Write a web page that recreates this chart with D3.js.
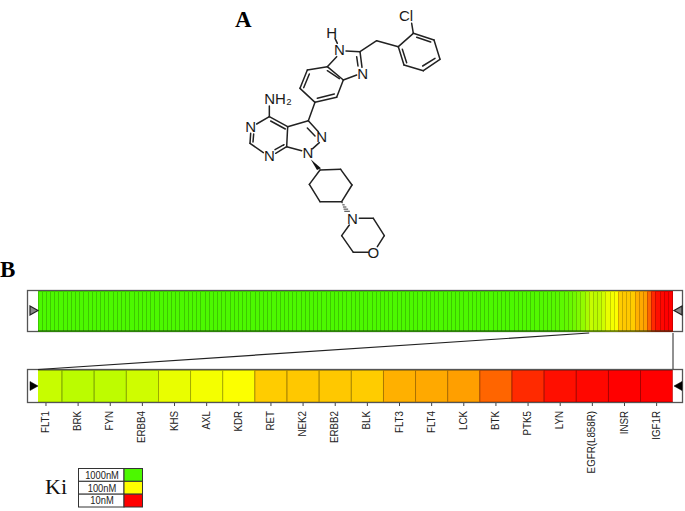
<!DOCTYPE html>
<html>
<head>
<meta charset="utf-8">
<script src="https://cdn.jsdelivr.net/npm/d3@7"></script>
<style>
  html, body { margin: 0; background: #fff; }
  svg { display: block; }
</style>
</head>
<body>
<div id="chart"></div>
<script>
// kinases shown in the zoomed strip
var kinases = ["FLT1", "BRK", "FYN", "ERBB4", "KHS", "AXL", "KDR", "RET", "NEK2", "ERBB2",
               "BLK", "FLT3", "FLT4", "LCK", "BTK", "PTK5", "LYN", "EGFR(L858R)", "INSR", "IGF1R"];
// Ki in nM
var kinaseKi = [206, 240, 231, 186, 133, 115, 104, 63, 61, 61,
                63, 49, 46, 42, 25, 14.6, 11.5, 10.7, 10, 10];
// the rest of the panel, weakest binders first (read from the top strip)
var otherKi = [
  1000, 1000, 1000, 1000, 1000, 1000, 1000, 1000, 1000, 1000, 1000, 1000, 1000, 1000, 1000, 1000,
  1000, 1000, 1000, 1000, 1000, 1000, 1000, 1000, 1000, 1000, 1000, 1000, 1000, 1000, 1000, 1000,
  1000, 1000, 1000, 1000, 1000, 1000, 1000, 1000, 1000, 1000, 1000, 1000, 1000, 1000, 1000, 1000,
  1000, 1000, 1000, 1000, 1000, 1000, 1000, 1000, 1000, 1000, 1000, 1000, 1000, 1000, 1000, 1000,
  1000, 1000, 1000, 1000, 1000, 1000, 1000, 1000, 1000, 1000, 1000, 1000, 1000, 1000, 1000, 1000,
  1000, 1000, 1000, 1000, 1000, 1000, 1000, 1000, 1000, 1000, 1000, 1000, 1000, 1000, 1000, 1000,
  1000, 1000, 1000, 1000, 1000, 1000, 1000, 1000, 1000, 1000, 1000, 1000, 1000, 1000, 1000, 1000,
  1000, 1000, 980, 980, 950, 950, 950, 920, 920, 900, 900, 880, 850, 800, 750, 700,
  620, 520, 400, 300
];
var legendLabels = ["1000nM", "100nM", "10nM"];
var legendKi = [1000, 100, 10];

var width = 685, height = 511;

var color = d3.scaleLog()
    .domain([10, 100, 1000])
    .range(["#ff0000", "#ffff00", "#4cf800"])
    .clamp(true);

var svg = d3.select("#chart").append("svg")
    .attr("width", width)
    .attr("height", height);

var sans = "'Liberation Sans', Arial, sans-serif";
var serif = "'Liberation Serif', 'Times New Roman', serif";

// panel letters
svg.append("text").attr("x", 235).attr("y", 27)
    .attr("font-family", serif).attr("font-weight", "bold").attr("font-size", 23).text("A");
svg.append("text").attr("x", 0).attr("y", 277)
    .attr("font-family", serif).attr("font-weight", "bold").attr("font-size", 23).text("B");

// ---- heat strips ----
var allKi = otherKi.concat(kinaseKi);
var topX = d3.scaleBand().domain(d3.range(allKi.length)).range([38, 672.7]);
var zoomX = d3.scaleBand().domain(kinases).range([29.9, 672.7]);

function frame(y, h) {
    svg.append("rect").attr("x", 27.5).attr("y", y).attr("width", 655).attr("height", h)
        .attr("fill", "#fff").attr("stroke", "#555").attr("stroke-width", 1.3);
}

frame(290.5, 41);
frame(369.5, 33);

svg.append("g").attr("shape-rendering", "crispEdges").selectAll("rect")
    .data(allKi)
    .enter().append("rect")
    .attr("x", function(d, i) { return topX(i); })
    .attr("y", 291.5)
    .attr("width", topX.bandwidth())
    .attr("height", 39.5)
    .attr("fill", function(d) { return color(d); })
    .attr("stroke", function(d) { return d3.color(color(d)).darker(0.6); })
    .attr("stroke-width", 1);

// dark line under the top strip
svg.append("line").attr("x1", 38).attr("x2", 672.7).attr("y1", 331).attr("y2", 331)
    .attr("stroke", "#1c3a10").attr("stroke-width", 1.2);

// first cell of the zoomed strip is partly hidden by the left margin
svg.append("clipPath").attr("id", "zoomclip").append("rect")
    .attr("x", 38).attr("y", 370).attr("width", 634.7).attr("height", 32);

svg.append("g").attr("clip-path", "url(#zoomclip)").selectAll("rect")
    .data(kinases)
    .enter().append("rect")
    .attr("x", function(d) { return zoomX(d); })
    .attr("y", 370.5)
    .attr("width", zoomX.bandwidth())
    .attr("height", 31.5)
    .attr("fill", function(d, i) { return color(kinaseKi[i]); })
    .attr("stroke", function(d, i) { return d3.color(color(kinaseKi[i])).darker(1.2); })
    .attr("stroke-width", 0.9);

// lines that tie the zoomed strip to the top one
var zoomStart = topX(otherKi.length);
var tie = svg.append("g").attr("stroke", "#222").attr("fill", "none");
tie.append("line").attr("x1", 38).attr("y1", 369.5).attr("x2", zoomStart).attr("y2", 333).attr("stroke-width", 1.2);
tie.append("line").attr("x1", 673).attr("y1", 333).attr("x2", 673).attr("y2", 369).attr("stroke-width", 1);

// end markers
var pointer = d3.line();
function marker(x, y, dir, solid) {
    svg.append("path")
        .attr("d", pointer([[x, y - 4.5], [x + dir * 8, y], [x, y + 4.5]]) + "Z")
        .attr("fill", solid ? "#000" : "#888")
        .attr("stroke", solid ? "#000" : "#222")
        .attr("stroke-width", solid ? 0.5 : 1.2);
}
marker(30, 310.5, 1, false);
marker(682, 310.5, -1, false);
marker(30, 386, 1, true);
marker(682, 386, -1, true);

// kinase names
var axis = d3.axisBottom(zoomX).tickSize(3).tickPadding(0);
var axisG = svg.append("g").attr("transform", "translate(0,403)").call(axis);
axisG.select(".domain").remove();
axisG.selectAll(".tick line").attr("stroke", "#444");
axisG.selectAll(".tick text")
    .attr("font-family", sans)
    .attr("font-size", 11.5)
    .attr("fill", "#222")
    .attr("text-anchor", "end")
    .attr("transform", "translate(-1,8) rotate(-90) scale(0.85,1)")
    .attr("x", 0)
    .attr("y", 0)
    .attr("dy", "0.35em");

// ---- Ki legend ----
svg.append("text").attr("x", 45).attr("y", 494)
    .attr("font-family", serif).attr("font-size", 22).attr("fill", "#111").text("Ki");

var legendY = d3.scaleBand().domain(legendLabels).range([468.5, 507]);
var rows = svg.append("g").selectAll("g")
    .data(legendLabels)
    .enter().append("g");
rows.append("rect")
    .attr("x", 78.5).attr("y", function(d) { return legendY(d); })
    .attr("width", 45.5).attr("height", legendY.bandwidth())
    .attr("fill", "#fff").attr("stroke", "#333");
rows.append("rect")
    .attr("x", 124).attr("y", function(d) { return legendY(d); })
    .attr("width", 18.5).attr("height", legendY.bandwidth())
    .attr("fill", function(d, i) { return color(legendKi[i]); }).attr("stroke", "#333");
rows.append("text")
    .attr("transform", function(d) { return "translate(102," + (legendY(d) + legendY.bandwidth() / 2) + ") scale(0.85,1)"; })
    .attr("dy", "0.35em").attr("text-anchor", "middle")
    .attr("font-family", sans).attr("font-size", 11).attr("fill", "#222")
    .text(function(d) { return d; });

// ---- molecule, coordinates taken from a 3x crop of the drawing ----
var mx = d3.scaleLinear().domain([0, 720]).range([220, 460]);
var my = d3.scaleLinear().domain([0, 240]).range([0, 80]);

var bonds = [
    // chlorophenyl
    [575,70,580,100],[580,100,642,120],[642,120,660,178],[660,178,610,212],[610,212,552,195],[552,195,535,140],[535,140,580,100],
    [590,112,632,126],[645,175,608,198],[560,188,547,148],
    // CH2 link
    [535,140,470,122],[470,122,420,155],
    // imidazole
    [345,115,352,130],[378,153,420,155],[420,155,426,202],[410,170,414,198],[410,225,370,240],[350,170,322,200],
    // fused benzene
    [322,200,262,210],[262,210,240,265],[240,265,285,307],[285,307,350,292],[350,292,370,240],[370,240,322,200],
    [268,222,251,263],[292,295,343,282],[358,236,322,212],
    // link to the pyrazole
    [285,307,265,362],
    // pyrazole
    [265,362,295,395],[262,384,285,408],[298,428,278,446],[245,452,200,440],[200,440,203,380],[203,380,265,362],
    // pyrimidine
    [148,318,148,350],[148,350,203,380],[152,363,196,387],[110,372,148,350],[92,400,90,430],[101,402,99,426],
    [90,430,130,458],[167,460,200,440],[165,449,192,434],
    // cyclohexane
    [300,510,362,508],[362,508,396,555],[396,555,365,605],[365,605,300,605],[300,605,268,553],[268,553,300,510],
    // morpholine
    [418,655,460,655],[460,655,493,707],[493,707,472,740],[445,757,400,757],[400,757,365,707],[365,707,388,675]
];
var atomLabels = [
    ["Cl", 558, 46], ["H", 335, 97], ["N", 358, 150], ["N", 428, 220], ["NH\u2082", 174, 297],
    ["N", 92, 381], ["N", 148, 468], ["N", 305, 410], ["N", 264, 458], ["N", 397, 655], ["O", 460, 757]
];

var mol = svg.append("g").attr("stroke", "#222").attr("stroke-width", 1.5).attr("stroke-linecap", "round");
mol.selectAll("line")
    .data(bonds)
    .enter().append("line")
    .attr("x1", function(d) { return mx(d[0]); })
    .attr("y1", function(d) { return my(d[1]); })
    .attr("x2", function(d) { return mx(d[2]); })
    .attr("y2", function(d) { return my(d[3]); });

// solid wedge from N1 to the cyclohexane
svg.append("path")
    .attr("d", d3.line()([[mx(272), my(478)], [mx(303), my(505)], [mx(291), my(510)]]) + "Z")
    .attr("fill", "#111");

// hashed wedge down to the morpholine nitrogen
var hashes = [0.1, 0.3, 0.5, 0.7, 0.9];
mol.selectAll(".hash")
    .data(hashes)
    .enter().append("line")
    .attr("class", "hash")
    .attr("stroke-width", 0.9)
    .attr("x1", function(d) { return mx(365 + d * 18 - d * 8); })
    .attr("y1", function(d) { return my(605 + d * 32); })
    .attr("x2", function(d) { return mx(365 + d * 18 + d * 8); })
    .attr("y2", function(d) { return my(605 + d * 32); });

svg.append("g").selectAll("text")
    .data(atomLabels)
    .enter().append("text")
    .attr("x", function(d) { return mx(d[1]); })
    .attr("y", function(d) { return my(d[2]); })
    .attr("dy", "0.36em")
    .attr("text-anchor", "middle")
    .attr("font-family", sans)
    .attr("font-size", 15)
    .attr("fill", "#1a1a1a")
    .text(function(d) { return d[0]; });
</script>
</body>
</html>
